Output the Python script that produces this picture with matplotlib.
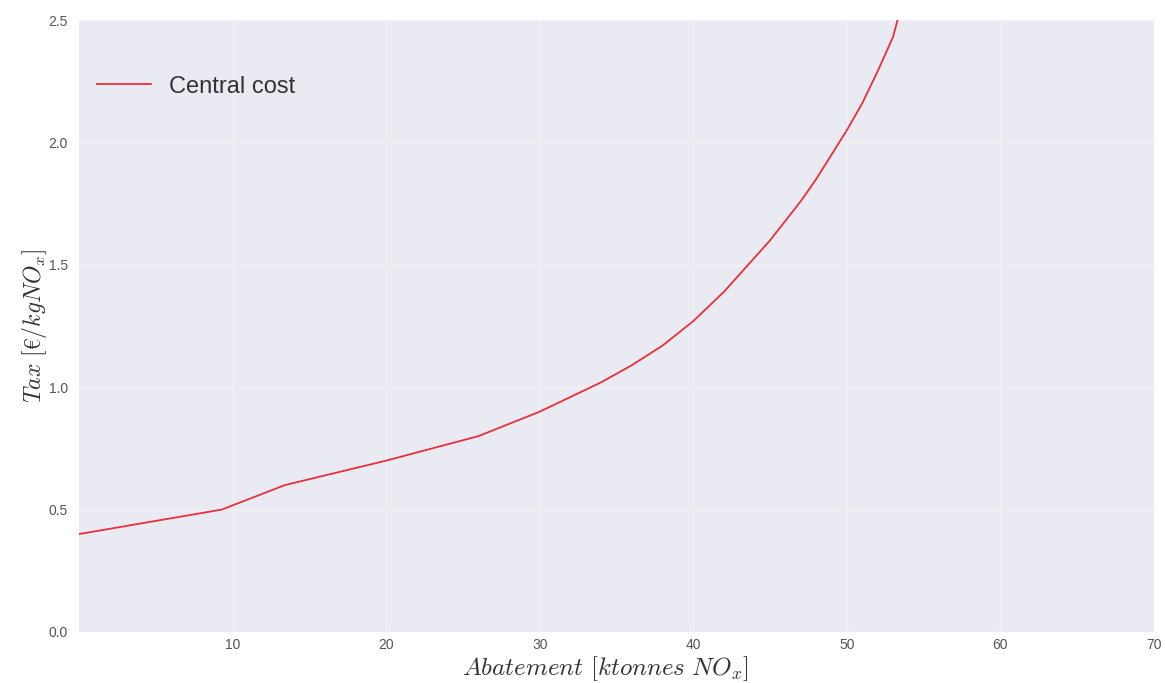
import matplotlib
matplotlib.use("Agg")
import matplotlib.pyplot as plt

# abatement (ktonnes NOx) vs tax (EUR/kg NOx), central cost scenario
abatement = [0, 9.3, 13.4, 20, 26, 27, 28, 29, 30, 31, 32, 33, 34, 35, 36, 37, 38, 39, 40,
             41, 42, 43, 44, 45, 46, 47, 48, 49, 50, 51, 52, 53, 53.3]
tax = [0.40, 0.50, 0.60, 0.70, 0.80, 0.825, 0.85, 0.875, 0.90, 0.93, 0.96, 0.99, 1.02, 1.055,
       1.09, 1.13, 1.17, 1.22, 1.27, 1.33, 1.39, 1.46, 1.53, 1.60, 1.68, 1.76, 1.85, 1.95,
       2.05, 2.16, 2.29, 2.43, 2.50]

xticks = [10, 20, 30, 40, 50, 60, 70]
yticks = [0.0, 0.5, 1.0, 1.5, 2.0, 2.5]

plt.rcParams['mathtext.fontset'] = 'cm'
plt.rcParams['font.family'] = ['Liberation Sans', 'DejaVu Sans']

fig = plt.figure(figsize=(11.65, 6.83), dpi=100)
ax = fig.add_axes([0.0678, 0.0747, 0.9228, 0.896])
ax.set_facecolor('#eaeaf2')
for s in ax.spines.values():
    s.set_visible(False)
ax.grid(True, color='#f1f1f6', linewidth=1.0)
ax.set_axisbelow(True)

ax.plot(abatement, tax, color='#e8303c', linewidth=1.3, label='Central cost')

ax.set_xlim(0, 70)
ax.set_ylim(0, 2.5)
ax.set_xticks(xticks)
ax.set_yticks(yticks)
ax.set_yticklabels(['%.1f' % v for v in yticks])
ax.tick_params(axis='both', length=0, labelsize=10, labelcolor='#555555')
ax.tick_params(axis='x', pad=4)
ax.tick_params(axis='y', pad=8)

ax.set_xlabel(r'$Abatement\ [ktonnes\ NO_x]$', fontsize=18, color='#333333')
ax.xaxis.set_label_coords(0.49, -0.036)
ax.set_ylabel(r'$Tax\ [€/kgNO_x]$', fontsize=17, color='#333333', labelpad=0)

ax.legend(loc='upper left', frameon=False, fontsize=17, handlelength=2.25,
          borderaxespad=0.38, bbox_to_anchor=(0.0, 0.939), labelcolor='#333333')

fig.savefig('out.png', dpi=100)
